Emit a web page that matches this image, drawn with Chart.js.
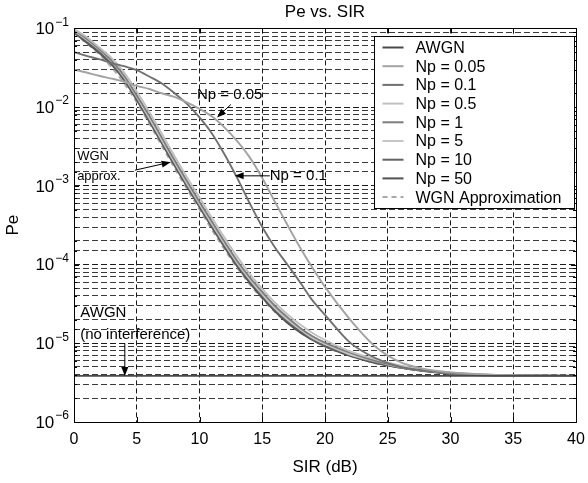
<!DOCTYPE html>
<html>
<head>
<meta charset="utf-8">
<script src="https://cdn.jsdelivr.net/npm/chart.js@4/dist/chart.umd.min.js"></script>
<style>
  html, body { margin: 0; padding: 0; background: #fff; }
</style>
</head>
<body>
<canvas id="peChart" width="588" height="483"></canvas>
<script>
var FONT = '"Liberation Sans", Arial, sans-serif';

// SIR axis (dB) and bit error probability for each interference model
var sir = [0, 1, 2, 3, 4, 5, 6, 7, 8, 9, 10, 11, 12, 13, 14, 15, 16, 17, 18, 19, 20, 22, 24, 26, 28, 30, 32, 35, 40];

var peAWGN = [3.85e-6, 3.85e-6, 3.85e-6, 3.85e-6, 3.85e-6, 3.85e-6, 3.85e-6, 3.85e-6, 3.85e-6, 3.85e-6,
    3.85e-6, 3.85e-6, 3.85e-6, 3.85e-6, 3.85e-6, 3.85e-6, 3.85e-6, 3.85e-6, 3.85e-6, 3.85e-6,
    3.85e-6, 3.85e-6, 3.85e-6, 3.85e-6, 3.85e-6, 3.85e-6, 3.85e-6, 3.85e-6, 3.85e-6];
var peNp005 = [3.0e-2, 2.75e-2, 2.5e-2, 2.3e-2, 2.1e-2, 1.86e-2, 1.7e-2, 1.5e-2, 1.35e-2, 1.15e-2,
    9.5e-3, 7.6e-3, 5.5e-3, 3.7e-3, 2.3e-3, 1.26e-3, 6.3e-4, 3.2e-4, 1.66e-4, 9.1e-5,
    5.2e-5, 2.0e-5, 9.1e-6, 5.75e-6, 4.7e-6, 4.27e-6, 4.07e-6, 3.9e-6, 3.85e-6];
var peNp01 = [5.0e-2, 4.47e-2, 4.07e-2, 3.63e-2, 3.31e-2, 2.95e-2, 2.45e-2, 2.0e-2, 1.51e-2, 1.1e-2,
    7.4e-3, 4.6e-3, 2.5e-3, 1.26e-3, 6.0e-4, 3.0e-4, 1.66e-4, 1.0e-4, 6.0e-5, 3.5e-5,
    2.3e-5, 1.02e-5, 6.5e-6, 5.0e-6, 4.5e-6, 4.2e-6, 4.0e-6, 3.9e-6, 3.85e-6];
var peNp05 = [9.8e-2, 7.8e-2, 5.75e-2, 4.2e-2, 2.75e-2, 1.58e-2, 8.7e-3, 4.6e-3, 2.4e-3, 1.29e-3,
    7.1e-4, 3.9e-4, 2.19e-4, 1.26e-4, 7.6e-5, 4.9e-5, 3.3e-5, 2.34e-5, 1.74e-5, 1.35e-5,
    1.1e-5, 7.9e-6, 6.3e-6, 5.25e-6, 4.6e-6, 4.27e-6, 4.07e-6, 3.9e-6, 3.85e-6];
var peNp1 = [9.55e-2, 7.4e-2, 5.5e-2, 3.9e-2, 2.5e-2, 1.41e-2, 7.8e-3, 4.1e-3, 2.14e-3, 1.15e-3,
    6.3e-4, 3.5e-4, 1.95e-4, 1.12e-4, 6.9e-5, 4.5e-5, 3.0e-5, 2.14e-5, 1.58e-5, 1.23e-5,
    1.02e-5, 7.6e-6, 6.0e-6, 5.1e-6, 4.5e-6, 4.2e-6, 4.0e-6, 3.9e-6, 3.85e-6];
var peNp5 = [9.3e-2, 7.2e-2, 5.4e-2, 3.8e-2, 2.4e-2, 1.35e-2, 7.2e-3, 3.8e-3, 2.0e-3, 1.07e-3,
    5.9e-4, 3.24e-4, 1.82e-4, 1.05e-4, 6.5e-5, 4.2e-5, 2.8e-5, 2.0e-5, 1.51e-5, 1.17e-5,
    9.8e-6, 7.2e-6, 5.9e-6, 5.0e-6, 4.5e-6, 4.2e-6, 4.0e-6, 3.9e-6, 3.85e-6];
var peNp10 = [9.1e-2, 6.9e-2, 5.1e-2, 3.6e-2, 2.3e-2, 1.29e-2, 6.9e-3, 3.6e-3, 1.9e-3, 1.02e-3,
    5.6e-4, 3.1e-4, 1.74e-4, 1.0e-4, 6.2e-5, 4.0e-5, 2.7e-5, 1.9e-5, 1.45e-5, 1.12e-5,
    9.3e-6, 7.1e-6, 5.75e-6, 4.9e-6, 4.5e-6, 4.2e-6, 4.0e-6, 3.9e-6, 3.85e-6];
var peNp50 = [8.9e-2, 6.6e-2, 4.9e-2, 3.47e-2, 2.2e-2, 1.23e-2, 6.6e-3, 3.47e-3, 1.82e-3, 9.8e-4,
    5.4e-4, 2.95e-4, 1.66e-4, 9.5e-5, 5.9e-5, 3.8e-5, 2.57e-5, 1.82e-5, 1.38e-5, 1.1e-5,
    9.1e-6, 6.9e-6, 5.6e-6, 4.9e-6, 4.4e-6, 4.1e-6, 3.95e-6, 3.88e-6, 3.85e-6];
var peWGN = [8.7e-2, 6.5e-2, 4.7e-2, 3.2e-2, 2.0e-2, 1.15e-2, 6.2e-3, 3.2e-3, 1.7e-3, 9.1e-4,
    5.0e-4, 2.75e-4, 1.55e-4, 9.1e-5, 5.6e-5, 3.7e-5, 2.5e-5, 1.82e-5, 1.38e-5, 1.1e-5,
    9.1e-6, 6.9e-6, 5.6e-6, 4.9e-6, 4.4e-6, 4.1e-6, 3.95e-6, 3.88e-6, 3.85e-6];

var seriesNames = ["AWGN", "Np = 0.05", "Np = 0.1", "Np = 0.5", "Np = 1", "Np = 5", "Np = 10", "Np = 50", "WGN Approximation"];
var seriesValues = [peAWGN, peNp005, peNp01, peNp05, peNp1, peNp5, peNp10, peNp50, peWGN];
var seriesColors = ["#4a4a4a", "#a3a3a3", "#707070", "#c0c0c0", "#7d7d7d", "#c6c6c6", "#636363", "#525252", "#a8a8a8"];

// y tick labels: decades shown as 10^k
var decades = [-6, -5, -4, -3, -2, -1];
var xTicks = [0, 5, 10, 15, 20, 25, 30, 35, 40];

// text callouts, placed in data units (SIR dB, Pe)
var callouts = [
    { lines: ["Np = 0.05"], size: 15, at: [9.8, 1.45e-2], arrow: [[12.5, 1.08e-2], [11.4, 7.4e-3]] },
    { lines: ["Np = 0.1"], size: 15, at: [15.6, 1.34e-3], arrow: [[15.6, 1.34e-3], [12.8, 1.34e-3]] },
    { lines: ["WGN", "approx."], size: 13, at: [0.25, 2.33e-3], arrow: [[4.85, 1.58e-3], [7.7, 2.0e-3]] },
    { lines: ["AWGN", "(no interference)"], size: 15, at: [0.5, 2.4e-5], arrow: [[4.05, 1.0e-5], [4.05, 3.85e-6]] }
];

var datasets = seriesNames.map(function (name, i) {
    return {
        label: name,
        data: sir.map(function (s, j) { return { x: s, y: seriesValues[i][j] }; }),
        borderColor: seriesColors[i],
        borderWidth: 1.9,
        borderDash: i === 8 ? [5, 4] : [],
        pointRadius: 0,
        fill: false,
        cubicInterpolationMode: 'monotone'
    };
});

function arrow(ctx, x1, y1, x2, y2) {
    var a = Math.atan2(y2 - y1, x2 - x1);
    ctx.beginPath();
    ctx.moveTo(x1, y1);
    ctx.lineTo(x2 - 6 * Math.cos(a), y2 - 6 * Math.sin(a));
    ctx.stroke();
    ctx.beginPath();
    ctx.moveTo(x2, y2);
    ctx.lineTo(x2 - 9 * Math.cos(a) + 3.5 * Math.sin(a), y2 - 9 * Math.sin(a) - 3.5 * Math.cos(a));
    ctx.lineTo(x2 - 9 * Math.cos(a) - 3.5 * Math.sin(a), y2 - 9 * Math.sin(a) + 3.5 * Math.cos(a));
    ctx.closePath();
    ctx.fill();
}

var decorations = {
    id: 'decorations',
    afterDatasetsDraw: function (chart) {
        var ctx = chart.ctx, xs = chart.scales.x, ys = chart.scales.y;
        ctx.save();
        ctx.fillStyle = '#000';
        ctx.strokeStyle = '#000';
        ctx.lineWidth = 1;
        ctx.textBaseline = 'middle';
        ctx.textAlign = 'left';
        callouts.forEach(function (c) {
            ctx.font = c.size + 'px ' + FONT;
            var x = xs.getPixelForValue(c.at[0]);
            var y = ys.getPixelForValue(c.at[1]);
            c.lines.forEach(function (t, k) { ctx.fillText(t, x, y + k * (c.size + 7)); });
            var p = c.arrow;
            arrow(ctx, xs.getPixelForValue(p[0][0]), ys.getPixelForValue(p[0][1]),
                xs.getPixelForValue(p[1][0]), ys.getPixelForValue(p[1][1]));
        });
        ctx.restore();
    },
    afterDraw: function (chart) {
        var ctx = chart.ctx, ca = chart.chartArea, xs = chart.scales.x, ys = chart.scales.y;
        ctx.save();
        ctx.strokeStyle = '#000';
        ctx.fillStyle = '#000';
        ctx.lineWidth = 1;

        // inward ticks on all four sides
        ctx.beginPath();
        xTicks.forEach(function (v) {
            var x = Math.round(xs.getPixelForValue(v)) + 0.5;
            ctx.moveTo(x, ca.bottom); ctx.lineTo(x, ca.bottom - 5);
            ctx.moveTo(x, ca.top); ctx.lineTo(x, ca.top + 5);
        });
        ys.ticks.forEach(function (t) {
            var y = Math.round(ys.getPixelForValue(t.value)) + 0.5;
            var len = t.major ? 5 : 3;
            ctx.moveTo(ca.left, y); ctx.lineTo(ca.left + len, y);
            ctx.moveTo(ca.right, y); ctx.lineTo(ca.right - len, y);
        });
        ctx.stroke();

        // y labels as powers of ten
        ctx.textBaseline = 'middle';
        decades.forEach(function (k) {
            var y = ys.getPixelForValue(Math.pow(10, k));
            var exp = '\u2212' + Math.abs(k);
            ctx.font = '12px ' + FONT;
            var we = ctx.measureText(exp).width;
            ctx.font = '17px ' + FONT;
            var wb = ctx.measureText('10').width;
            var right = ca.left - 5;
            ctx.textAlign = 'left';
            ctx.fillText('10', right - we - wb - 1, y + 1);
            ctx.font = '12px ' + FONT;
            ctx.fillText(exp, right - we, y - 6);
        });

        // legend box
        var lw = 200, lh = 172;
        var lx = Math.round(ca.right - lw - 2) + 0.5, ly = Math.round(ca.top + 8) + 0.5;
        ctx.fillStyle = '#fff';
        ctx.fillRect(lx, ly, lw, lh);
        ctx.strokeRect(lx, ly, lw, lh);
        ctx.font = '16px ' + FONT;
        ctx.textAlign = 'left';
        chart.data.datasets.forEach(function (ds, i) {
            var y = ly + 11 + i * 18.7;
            ctx.strokeStyle = ds.borderColor;
            ctx.lineWidth = 2;
            ctx.setLineDash(ds.borderDash);
            ctx.beginPath();
            ctx.moveTo(lx + 8, y); ctx.lineTo(lx + 29, y);
            ctx.stroke();
            ctx.setLineDash([]);
            ctx.fillStyle = '#000';
            ctx.fillText(ds.label, lx + 41, y + 1);
        });

        // axes frame
        ctx.strokeStyle = '#000';
        ctx.lineWidth = 1;
        ctx.strokeRect(Math.round(ca.left) + 0.5, Math.round(ca.top) + 0.5,
            Math.round(ca.right - ca.left), Math.round(ca.bottom - ca.top));
        ctx.restore();
    }
};

var gridColor = function (c) { return c.tick && c.tick.major ? '#1a1a1a' : '#3a3a3a'; };

var chart = new Chart(document.getElementById('peChart').getContext('2d'), {
    type: 'line',
    data: { datasets: datasets },
    options: {
        responsive: false,
        animation: false,
        layout: { padding: { left: 0, right: 12, top: 0, bottom: 0 } },
        plugins: {
            legend: { display: false },
            tooltip: { enabled: false },
            title: {
                display: true,
                text: 'Pe vs. SIR',
                fullSize: false,
                color: '#000',
                font: { family: FONT, size: 17, weight: 'normal' },
                padding: { top: 2, bottom: 6 }
            }
        },
        scales: {
            x: {
                type: 'linear',
                min: 0,
                max: 40,
                afterFit: function (s) { s.height = 61; s.paddingLeft = 0; s.paddingRight = 0; },
                ticks: { stepSize: 5, color: '#000', padding: 8, font: { family: FONT, size: 16 }, maxRotation: 0 },
                grid: { color: '#1a1a1a', drawTicks: false },
                border: { display: false, dash: [5, 3] },
                title: { display: true, text: 'SIR (dB)', color: '#000', font: { family: FONT, size: 17 }, padding: { top: 0, bottom: 5 } }
            },
            y: {
                type: 'logarithmic',
                min: 1e-6,
                max: 1e-1,
                afterFit: function (s) { s.width = 74; },
                ticks: { display: false },
                grid: { color: gridColor, drawTicks: false },
                border: { display: false, dash: [6, 3] },
                title: { display: true, text: 'Pe', color: '#000', font: { family: FONT, size: 17 }, padding: { top: 3, bottom: 4 } }
            }
        }
    },
    plugins: [decorations]
});
</script>
</body>
</html>
